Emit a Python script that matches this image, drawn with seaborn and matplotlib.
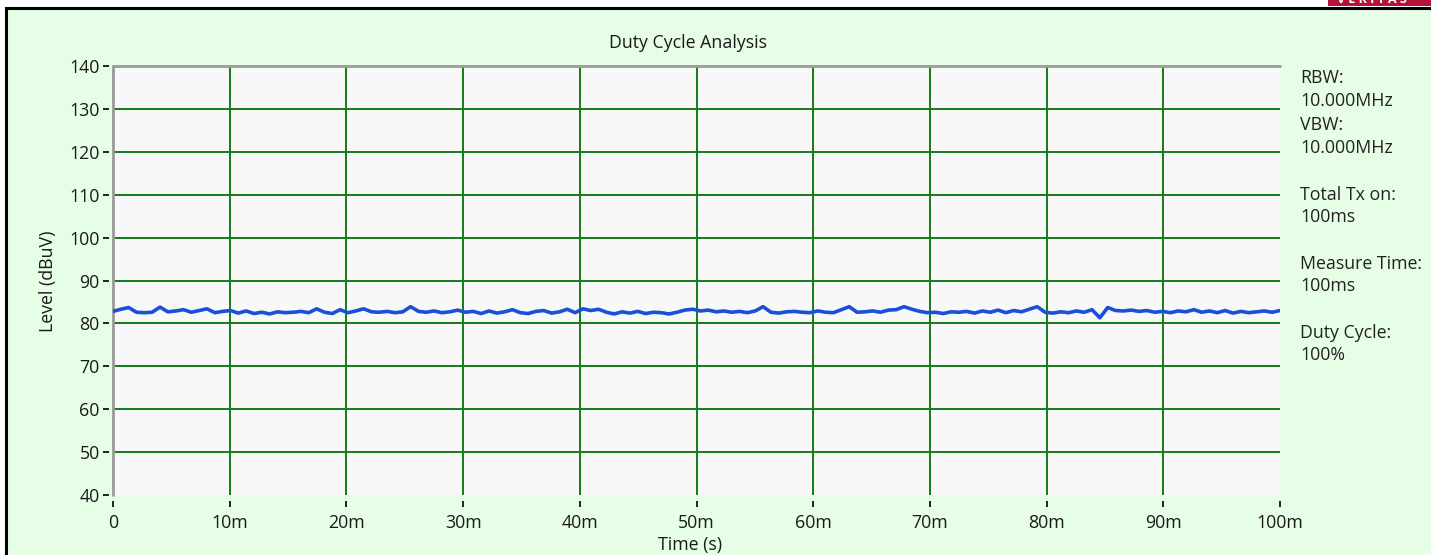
import numpy as np
import pandas as pd
import seaborn as sns
import matplotlib
matplotlib.use("Agg")
import matplotlib.pyplot as plt
from matplotlib.patches import Rectangle

# Measured trace level (dBuV), sampled evenly across the 100 ms sweep
level = [
    82.8, 83.3, 83.7, 82.6, 82.5, 82.6, 83.8, 82.7, 82.9, 83.2,
    82.6, 83.0, 83.4, 82.5, 82.8, 83.0, 82.4, 82.9, 82.3, 82.6,
    82.2, 82.7, 82.5, 82.6, 82.8, 82.5, 83.4, 82.6, 82.3, 83.2,
    82.5, 82.9, 83.4, 82.7, 82.6, 82.8, 82.5, 82.7, 83.9, 82.8,
    82.6, 82.9, 82.5, 82.7, 83.1, 82.6, 82.8, 82.3, 82.9, 82.4,
    82.7, 83.2, 82.5, 82.3, 82.8, 83.0, 82.4, 82.7, 83.3, 82.5,
    83.4, 83.0, 83.3, 82.6, 82.2, 82.7, 82.4, 82.8, 82.3, 82.6,
    82.5, 82.2, 82.6, 83.1, 83.3, 82.9, 83.1, 82.7, 82.9, 82.6,
    82.8, 82.5, 82.9, 83.9, 82.6, 82.4, 82.7, 82.8, 82.6, 82.5,
    82.9, 82.6, 82.5, 83.2, 83.9, 82.6, 82.7, 82.9, 82.6, 83.1,
    83.2, 83.9, 83.3, 82.8, 82.5, 82.6, 82.3, 82.7, 82.6, 82.8,
    82.4, 82.9, 82.6, 83.1, 82.5, 83.0, 82.7, 83.3, 83.9, 82.6,
    82.4, 82.7, 82.5, 82.9, 82.6, 83.2, 81.3, 83.7, 83.0, 82.9,
    83.1, 82.8, 83.0, 82.6, 82.8, 82.5, 82.9, 82.7, 83.2, 82.6,
    82.9, 82.5, 83.0, 82.4, 82.8, 82.5, 82.7, 82.9, 82.6, 83.0,
]
sweep_time = 0.1  # seconds
x_ticks = [0, 0.01, 0.02, 0.03, 0.04, 0.05, 0.06, 0.07, 0.08, 0.09, 0.1]
x_tick_labels = ["0", "10m", "20m", "30m", "40m", "50m", "60m", "70m", "80m", "90m", "100m"]
y_ticks = [40, 50, 60, 70, 80, 90, 100, 110, 120, 130, 140]
info_lines = [
    ("RBW:", 78), ("10.000MHz", 101), ("VBW:", 125), ("10.000MHz", 148),
    ("Total Tx on:", 195), ("100ms", 217),
    ("Measure Time:", 264), ("100ms", 286),
    ("Duty Cycle:", 333), ("100%", 355),
]

n = len(level)
time_s = [i * sweep_time / (n - 1) for i in range(n)]
df = pd.DataFrame({"Time (s)": time_s, "Level (dBuV)": level})

sns.set_style("white")
plt.rcParams["font.family"] = ["Open Sans", "DejaVu Sans"]
FS = 12.8

W, H = 1431, 555
fig = plt.figure(figsize=(W / 100, H / 100), dpi=100)
fig.patch.set_facecolor("white")

# Panel background with black frame, drawn on a full-figure backdrop axes
bg = fig.add_axes([0, 0, 1, 1], zorder=-10)
bg.set_axis_off()
bg.set_xlim(0, W)
bg.set_ylim(H, 0)
bg.add_patch(Rectangle((6, 8), W + 50, H + 50, facecolor="#e6fde6", edgecolor="black",
                       linewidth=2.2))
# Logo strip at top right
bg.add_patch(Rectangle((1328, -10), 120, 16, facecolor="#b5123a", edgecolor="none"))
bg.text(1337, 6, "V E R I T A S", color="white", fontsize=9, fontweight="bold",
        ha="left", va="bottom", clip_on=True)

ax = fig.add_axes([113 / W, 1 - 495 / H, (1280 - 113) / W, (495 - 66) / H])
ax.set_facecolor("#f8f8f8")

grid_color = "#137d13"
ax.hlines(y_ticks[1:-1], 0, sweep_time, colors=grid_color, linewidth=1.4, zorder=1)
ax.vlines(x_ticks[1:-1], 40, 140, colors=grid_color, linewidth=1.4, zorder=1)
ax.axhline(140, color="#9a9a9a", linewidth=2.0, zorder=2, clip_on=False)
ax.axvline(0, color="#9a9a9a", linewidth=2.0, zorder=2, clip_on=False)

sns.lineplot(data=df, x="Time (s)", y="Level (dBuV)", ax=ax, color="#1a4fd8",
             linewidth=2.6, estimator=None, zorder=3)

ax.set_xlim(0, sweep_time)
ax.set_ylim(40, 140)
ax.set_xticks(x_ticks)
ax.set_xticklabels(x_tick_labels)
ax.set_yticks(y_ticks)

for s in ax.spines.values():
    s.set_visible(False)
ax.spines["left"].set_position(("outward", 3))
ax.spines["bottom"].set_position(("outward", 4))
ax.tick_params(axis="both", which="major", direction="out", length=4.5, width=1.4,
               color="#222222", labelsize=FS, labelcolor="#1a1a1a",
               left=True, bottom=True)
ax.tick_params(axis="x", pad=5)
ax.tick_params(axis="y", pad=2)

ax.set_xlabel("")
ax.set_ylabel("")
fig.text(690 / W, 1 - 545 / H, "Time (s)", ha="center", va="center", fontsize=FS, color="#1a1a1a")
fig.text(48 / W, 1 - 281 / H, "Level (dBuV)", ha="center", va="center", rotation=90,
         fontsize=FS, color="#1a1a1a")
fig.text(688 / W, 1 - 43 / H, "Duty Cycle Analysis", ha="center", va="center",
         fontsize=FS, color="#1a1a1a")

for txt, ypx in info_lines:
    fig.text(1300 / W, 1 - ypx / H, txt, ha="left", va="center", fontsize=FS, color="#222222")

fig.savefig("out.png", dpi=100, facecolor=fig.get_facecolor())
